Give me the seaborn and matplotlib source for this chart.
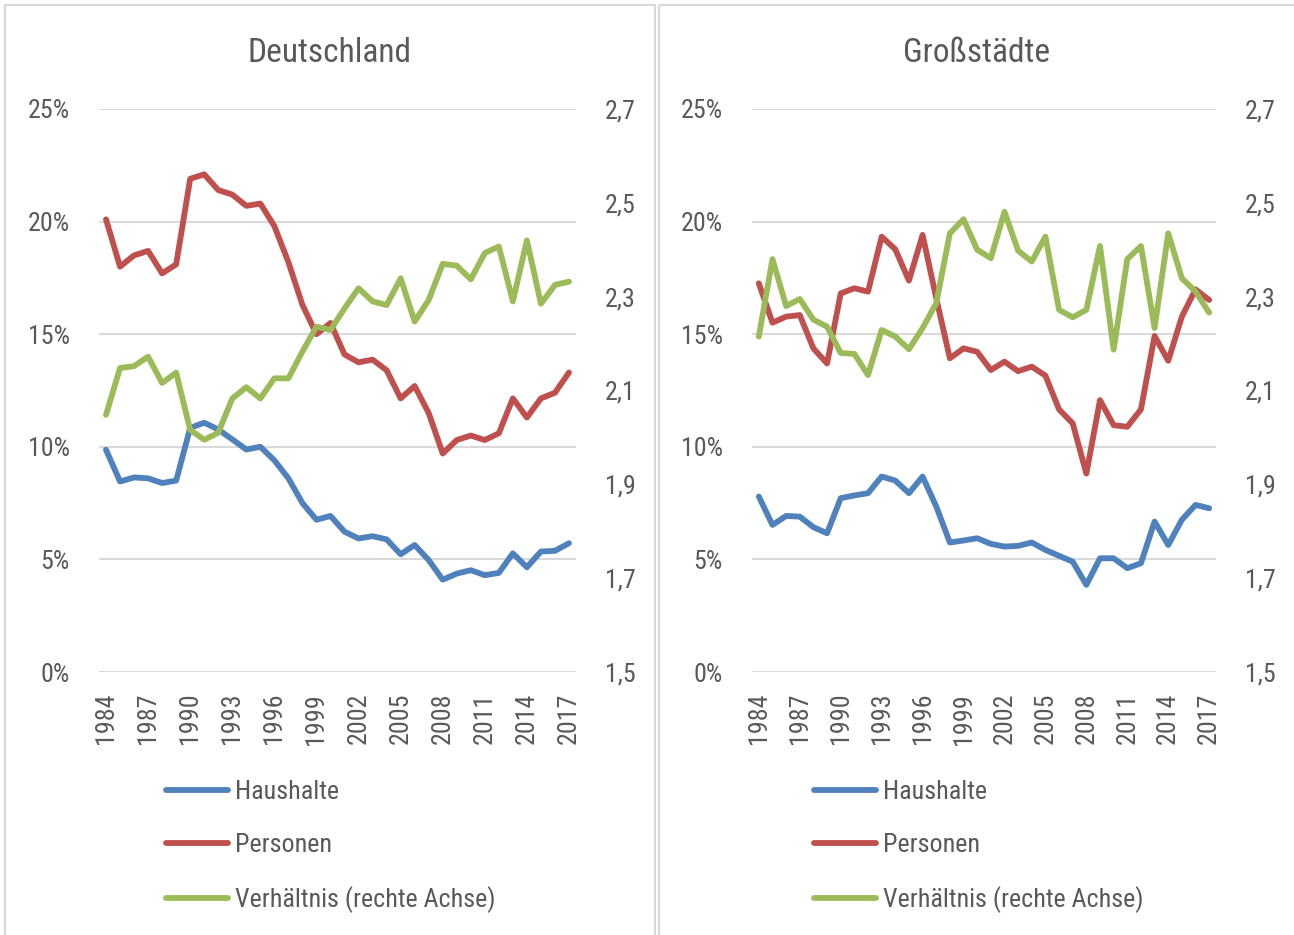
#!/usr/bin/env python
# coding: utf8

""" Haushalte / Personen / Verhältnis - Deutschland vs. Großstädte. """

import numpy as np
import pandas as pd
import seaborn as sns
from matplotlib import pyplot as plt
from matplotlib import font_manager
from matplotlib.lines import Line2D

years = list(range(1984, 2018))

# Deutschland (in %, Verhältnis auf rechter Achse)
de_haushalte = [9.87, 8.46, 8.64, 8.6, 8.39, 8.5, 10.84, 11.07, 10.77, 10.33,
                9.88, 10.0, 9.4, 8.6, 7.5, 6.76, 6.93, 6.23, 5.93, 6.03,
                5.89, 5.23, 5.64, 4.97, 4.1, 4.37, 4.52, 4.3, 4.4, 5.27,
                4.65, 5.35, 5.38, 5.72]
de_personen = [20.1, 18.0, 18.5, 18.7, 17.7, 18.1, 21.9, 22.1, 21.4, 21.2,
               20.7, 20.8, 19.8, 18.2, 16.3, 15.0, 15.5, 14.1, 13.75, 13.87,
               13.4, 12.15, 12.7, 11.5, 9.7, 10.3, 10.5, 10.3, 10.6, 12.15,
               11.3, 12.15, 12.4, 13.3]
de_verhaeltnis = [2.048, 2.148, 2.152, 2.172, 2.116, 2.138, 2.016, 1.995, 2.010, 2.083,
                  2.107, 2.083, 2.126, 2.126, 2.183, 2.236, 2.229, 2.275, 2.318, 2.290,
                  2.282, 2.339, 2.247, 2.293, 2.370, 2.366, 2.337, 2.393, 2.407, 2.290,
                  2.420, 2.285, 2.325, 2.332]

# Großstädte
gs_haushalte = [7.79, 6.53, 6.93, 6.90, 6.43, 6.16, 7.72, 7.84, 7.94, 8.68,
                8.50, 7.94, 8.68, 7.35, 5.75, 5.84, 5.94, 5.69, 5.57, 5.60,
                5.75, 5.42, 5.16, 4.90, 3.87, 5.05, 5.05, 4.61, 4.83, 6.68,
                5.64, 6.76, 7.42, 7.27]
gs_personen = [17.26, 15.51, 15.78, 15.85, 14.37, 13.70, 16.81, 17.04, 16.89, 19.33,
               18.77, 17.38, 19.41, 16.6, 13.93, 14.37, 14.22, 13.41, 13.78, 13.36,
               13.56, 13.16, 11.66, 11.04, 8.81, 12.07, 10.96, 10.89, 11.66, 14.92,
               13.82, 15.78, 16.99, 16.52]
gs_verhaeltnis = [2.215, 2.380, 2.280, 2.295, 2.251, 2.236, 2.180, 2.178, 2.133, 2.229,
                  2.215, 2.188, 2.233, 2.286, 2.435, 2.465, 2.400, 2.382, 2.481, 2.398,
                  2.375, 2.428, 2.272, 2.256, 2.272, 2.408, 2.187, 2.380, 2.408, 2.233,
                  2.435, 2.339, 2.311, 2.266]

titles = ['Deutschland', 'Großstädte']
labels = ['Haushalte', 'Personen', 'Verhältnis (rechte Achse)']
colors = ['#4f81bd', '#c0504d', '#9bbb59']
left_ticks = [0, 5, 10, 15, 20, 25]
right_ticks = [1.5, 1.7, 1.9, 2.1, 2.3, 2.5, 2.7]
year_ticks = list(range(1984, 2018, 3))

sns.set_theme(style='white')
names = {f.name for f in font_manager.fontManager.ttflist}
font = 'DejaVu Sans'
for cand in ['Roboto Condensed', 'Liberation Sans Narrow', 'Roboto']:
    if cand in names:
        font = cand
        break
plt.rcParams['font.family'] = [font, 'DejaVu Sans']

W, H = 1294, 935
txt = '#595959'
grid = '#d9d9d9'
fs = 18.7

fig = plt.figure(figsize=(W / 100, H / 100), dpi=100)

# data, axes left/right px, frame left/right px, legend x px
panels = [
    (de_haushalte, de_personen, de_verhaeltnis, 99, 576, 5, 655, 166),
    (gs_haushalte, gs_personen, gs_verhaeltnis, 752, 1216, 659, 1300, 814),
]

for i, (hh, pp, vv, x0, x1, b0, b1, lx) in enumerate(panels):
    df = pd.DataFrame({'Jahr': years, 'Haushalte': hh, 'Personen': pp, 'Verhaeltnis': vv})

    # panel frame
    for xx in [b0, b1]:
        fig.add_artist(Line2D([xx / W, xx / W], [0, 1 - 5 / H], color=grid, lw=1.6))
    fig.add_artist(Line2D([b0 / W, b1 / W], [1 - 5 / H, 1 - 5 / H], color=grid, lw=1.6))

    ax = fig.add_axes([x0 / W, 1 - 672 / H, (x1 - x0) / W, (672 - 109) / H])
    ax2 = ax.twinx()

    sns.lineplot(data=df, x='Jahr', y='Haushalte', ax=ax, color=colors[0], lw=4.2,
                 solid_capstyle='round', solid_joinstyle='round')
    sns.lineplot(data=df, x='Jahr', y='Personen', ax=ax, color=colors[1], lw=4.2,
                 solid_capstyle='round', solid_joinstyle='round')
    sns.lineplot(data=df, x='Jahr', y='Verhaeltnis', ax=ax2, color=colors[2], lw=4.2,
                 solid_capstyle='round', solid_joinstyle='round')

    ax.set_xlim(1983.5, 2017.5)
    ax.set_ylim(0, 25)
    ax2.set_ylim(1.5, 2.7)
    ax.set_yticks(left_ticks)
    ax.set_yticklabels([f'{t}%' for t in left_ticks])
    ax2.set_yticks(right_ticks)
    ax2.set_yticklabels([f'{t:.1f}'.replace('.', ',') for t in right_ticks])
    ax.set_xticks(year_ticks)
    ax.set_xticklabels([str(y) for y in year_ticks], rotation=90)

    ax.grid(axis='y', color=grid, lw=1.5)
    ax.grid(axis='x', visible=False)
    ax.set_axisbelow(True)
    for a in [ax, ax2]:
        a.set_xlabel('')
        a.set_ylabel('')
        for s in a.spines.values():
            s.set_visible(False)
        a.patch.set_visible(False)
    ax.tick_params(axis='y', length=0, pad=21, labelsize=fs, labelcolor=txt)
    ax2.tick_params(axis='y', length=0, pad=21, labelsize=fs, labelcolor=txt)
    ax.tick_params(axis='x', length=0, pad=15, labelsize=fs, labelcolor=txt)

    fig.text((b0 + min(b1, W)) / 2 / W, 1 - 53 / H, titles[i], ha='center', va='center',
             fontsize=24, color=txt)

    handles = [Line2D([], [], color=c, lw=4.2, solid_capstyle='round') for c in colors]
    leg = ax2.legend(handles, labels, loc='upper left',
                     bbox_to_anchor=(lx / W, 1 - 780 / H), bbox_transform=fig.transFigure,
                     frameon=False, borderpad=0, borderaxespad=0, handlelength=2.4,
                     handletextpad=0.25, labelspacing=1.12, fontsize=fs)
    for t in leg.get_texts():
        t.set_color(txt)

plt.savefig('out.png', dpi=100)
plt.close()
